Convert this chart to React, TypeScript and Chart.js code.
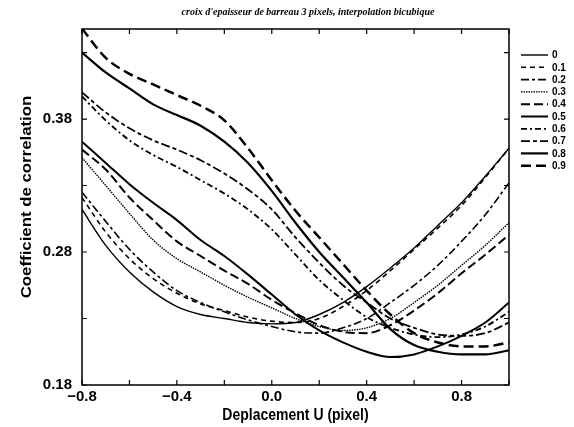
import React, { useEffect, useRef } from "react";
import { Chart, registerables } from "chart.js";

Chart.register(...registerables);

const chartTitle = "croix d'epaisseur de barreau 3 pixels, interpolation bicubique";
const xAxisTitle = "Deplacement U (pixel)";
const yAxisTitle = "Coefficient de correlation";

const displacement = [-0.8, -0.7, -0.6, -0.5, -0.4, -0.3, -0.2, -0.1, 0.0, 0.1, 0.2, 0.3, 0.4, 0.5, 0.6, 0.7, 0.8, 0.9, 1.0];
const shiftLabels = ["0", "0.1", "0.2", "0.3", "0.4", "0.5", "0.6", "0.7", "0.8", "0.9"];

const corr00 = [0.312, 0.285, 0.265, 0.250, 0.239, 0.233, 0.230, 0.227, 0.226, 0.227, 0.233, 0.242, 0.254, 0.268, 0.283, 0.300, 0.317, 0.337, 0.358];
const corr01 = [0.321, 0.295, 0.275, 0.260, 0.249, 0.241, 0.236, 0.231, 0.228, 0.227, 0.230, 0.239, 0.251, 0.266, 0.282, 0.298, 0.315, 0.336, 0.358];
const corr02 = [0.325, 0.303, 0.282, 0.265, 0.251, 0.242, 0.235, 0.229, 0.224, 0.220, 0.219, 0.223, 0.230, 0.242, 0.255, 0.270, 0.288, 0.308, 0.332];
const corr03 = [0.351, 0.330, 0.309, 0.289, 0.275, 0.265, 0.255, 0.246, 0.238, 0.230, 0.224, 0.221, 0.223, 0.230, 0.242, 0.255, 0.270, 0.285, 0.302];
const corr04 = [0.357, 0.342, 0.321, 0.304, 0.288, 0.277, 0.266, 0.256, 0.244, 0.234, 0.225, 0.220, 0.219, 0.225, 0.236, 0.249, 0.264, 0.278, 0.293];
const corr05 = [0.363, 0.347, 0.331, 0.317, 0.304, 0.289, 0.277, 0.263, 0.248, 0.233, 0.221, 0.212, 0.205, 0.201, 0.203, 0.209, 0.217, 0.227, 0.242];
const corr06 = [0.397, 0.379, 0.364, 0.353, 0.344, 0.334, 0.324, 0.312, 0.297, 0.278, 0.259, 0.244, 0.231, 0.223, 0.218, 0.216, 0.218, 0.224, 0.235];
const corr07 = [0.400, 0.385, 0.373, 0.364, 0.357, 0.349, 0.339, 0.327, 0.312, 0.291, 0.272, 0.255, 0.242, 0.230, 0.223, 0.218, 0.217, 0.219, 0.227];
const corr08 = [0.430, 0.415, 0.403, 0.391, 0.383, 0.375, 0.363, 0.347, 0.326, 0.302, 0.280, 0.261, 0.242, 0.222, 0.210, 0.205, 0.203, 0.203, 0.206];
const corr09 = [0.448, 0.426, 0.414, 0.406, 0.398, 0.390, 0.379, 0.358, 0.334, 0.311, 0.291, 0.271, 0.251, 0.233, 0.219, 0.212, 0.209, 0.209, 0.212];

const seriesValues = [corr00, corr01, corr02, corr03, corr04, corr05, corr06, corr07, corr08, corr09];

const xTickValues = [-0.8, -0.6, -0.4, -0.2, 0.0, 0.2, 0.4, 0.6, 0.8, 1.0];
const xLabelValues = [-0.8, -0.4, 0.0, 0.4, 0.8];
const yTickValues = [0.18, 0.23, 0.28, 0.33, 0.38, 0.43];
const yLabelValues = [0.18, 0.28, 0.38];

const X_MIN = -0.8;
const X_MAX = 1.0;
const Y_MIN = 0.18;
const Y_MAX = 0.4477;

const dashes: number[][] = [
  [],
  [5, 4],
  [8, 3, 3, 3],
  [1.5, 1],
  [9, 4],
  [],
  [6, 3, 2, 3],
  [9, 3, 4, 3],
  [],
  [10, 5],
];
const widths = [1.4, 1.6, 1.6, 1.4, 2, 2, 1.8, 1.8, 2.2, 2.5];

const SANS = '"Liberation Sans", Arial, sans-serif';

const framePlugin = {
  id: "frame",
  afterDraw(chart: any) {
    const { ctx, chartArea: a, scales } = chart;
    ctx.save();
    ctx.strokeStyle = "#000";
    ctx.lineWidth = 1.5;
    ctx.strokeRect(a.left, a.top, a.right - a.left, a.bottom - a.top);
    ctx.lineWidth = 1.2;
    const tl = 5;
    ctx.beginPath();
    for (const v of xTickValues) {
      const px = scales.x.getPixelForValue(v);
      ctx.moveTo(px, a.bottom);
      ctx.lineTo(px, a.bottom - tl);
      ctx.moveTo(px, a.top);
      ctx.lineTo(px, a.top + tl);
    }
    for (const v of yTickValues) {
      const py = scales.y.getPixelForValue(v);
      ctx.moveTo(a.left, py);
      ctx.lineTo(a.left + tl, py);
      ctx.moveTo(a.right, py);
      ctx.lineTo(a.right - tl, py);
    }
    ctx.stroke();

    // title
    ctx.fillStyle = "#000";
    ctx.font = 'italic bold 10px "Liberation Serif", "Times New Roman", serif';
    ctx.textAlign = "center";
    ctx.textBaseline = "middle";
    ctx.fillText(chartTitle, 308, 12);

    // axis titles
    ctx.font = `bold 14px ${SANS}`;
    ctx.save();
    ctx.translate((a.left + a.right) / 2, 416);
    ctx.scale(1, 1.15);
    ctx.fillText(xAxisTitle, 0, 0);
    ctx.restore();
    ctx.save();
    ctx.translate(27, 197);
    ctx.rotate(-Math.PI / 2);
    ctx.scale(1.2, 1);
    ctx.fillText(yAxisTitle, 0, 0);
    ctx.restore();

    // legend
    const ds = chart.data.datasets;
    ctx.font = `bold 10px ${SANS}`;
    ctx.textAlign = "left";
    for (let i = 0; i < ds.length; i++) {
      const y = 55 + i * 12.3;
      ctx.beginPath();
      ctx.lineWidth = ds[i].borderWidth;
      ctx.setLineDash(ds[i].borderDash || []);
      ctx.moveTo(521, y);
      ctx.lineTo(548, y);
      ctx.stroke();
      ctx.setLineDash([]);
      ctx.fillText(ds[i].label, 552, y + 0.5);
    }
    ctx.restore();
  },
};

function fmtX(v: number) {
  const s = Math.abs(v).toFixed(1);
  return v < -1e-9 ? "\u2212" + s : s;
}

export default function App() {
  const ref = useRef<HTMLCanvasElement>(null);
  useEffect(() => {
    document.body.style.margin = "0";
    const canvas = ref.current!;
    const datasets = seriesValues.map((vals, i) => ({
      label: shiftLabels[i],
      data: displacement.map((x, j) => ({ x, y: vals[j] })),
      borderColor: "#000",
      backgroundColor: "#000",
      borderWidth: widths[i],
      borderDash: dashes[i],
      pointRadius: 0,
      fill: false,
      cubicInterpolationMode: "monotone" as const,
    }));
    const chart = new Chart(canvas, {
      type: "line",
      data: { datasets },
      options: {
        responsive: false,
        animation: false,
        devicePixelRatio: 1,
        layout: { padding: { top: 29, right: 65, left: 0, bottom: 0 } },
        plugins: { legend: { display: false }, title: { display: false }, tooltip: { enabled: false } },
        scales: {
          x: {
            type: "linear",
            min: X_MIN,
            max: X_MAX,
            grid: { display: false, drawTicks: false },
            border: { display: false },
            afterBuildTicks: (s: any) => {
              s.ticks = xLabelValues.map((v) => ({ value: v }));
            },
            afterFit: (s: any) => {
              s.height = 42;
            },
            ticks: {
              autoSkip: false,
              maxRotation: 0,
              padding: 3,
              color: "#000",
              font: { family: SANS, size: 15, weight: "bold" },
              callback: (v: any) => fmtX(Number(v)),
            },
          },
          y: {
            type: "linear",
            min: Y_MIN,
            max: Y_MAX,
            grid: { display: false, drawTicks: false },
            border: { display: false },
            afterBuildTicks: (s: any) => {
              s.ticks = yLabelValues.map((v) => ({ value: v }));
            },
            afterFit: (s: any) => {
              s.width = 82;
            },
            ticks: {
              autoSkip: false,
              padding: 10,
              color: "#000",
              font: { family: SANS, size: 15, weight: "bold" },
              callback: (v: any) => Number(v).toFixed(2),
            },
          },
        },
      },
      plugins: [framePlugin],
    } as any);
    return () => chart.destroy();
  }, []);
  return (
    <div style={{ position: "fixed", left: 0, top: 0, width: 574, height: 427, background: "#fff" }}>
      <canvas ref={ref} width={574} height={427} />
    </div>
  );
}
